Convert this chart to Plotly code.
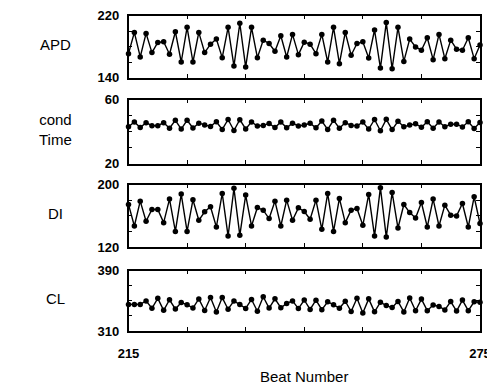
import plotly.graph_objects as go

beats = list(range(215, 276))

apd = [170.8, 198.2, 166.5, 196.9, 172.1, 185.2, 186.1, 170.0, 199.1, 160.0,
       204.8, 160.0, 198.2, 172.1, 183.0, 189.6, 165.6, 204.8, 154.7, 210.0,
       153.4, 204.8, 165.6, 188.2, 183.9, 173.9, 193.9, 166.5, 195.6, 169.5,
       185.6, 183.0, 170.8, 195.6, 160.0, 204.8, 157.8, 198.2, 168.7, 183.9,
       186.1, 165.2, 201.3, 152.1, 210.9, 151.3, 204.8, 160.8, 189.6, 179.5,
       175.2, 191.3, 163.0, 195.6, 164.3, 188.2, 176.5, 175.2, 191.3, 164.3,
       182.0]

cond = [43.0, 46.0, 42.5, 45.5, 43.6, 43.6, 45.5, 42.1, 47.0, 41.5,
        47.0, 42.2, 45.2, 44.0, 43.2, 46.1, 41.3, 47.5, 40.6, 47.4,
        41.6, 46.0, 43.4, 43.8, 45.0, 42.5, 46.0, 42.3, 45.2, 43.4,
        44.0, 45.1, 42.3, 46.5, 41.3, 47.0, 42.1, 45.5, 43.8, 43.5,
        45.9, 41.5, 47.5, 40.5, 47.6, 41.2, 46.4, 43.0, 44.1, 44.9,
        42.6, 46.1, 42.1, 46.0, 43.0, 44.5, 44.6, 42.8, 46.1, 41.9,
        45.7]

di = [174.4, 146.9, 178.7, 152.9, 168.0, 168.0, 151.2, 181.3, 140.0, 187.7,
      140.0, 180.4, 154.2, 165.0, 171.4, 145.6, 188.6, 134.0, 195.1, 134.9,
      186.5, 146.9, 170.5, 167.1, 156.4, 178.7, 146.9, 180.0, 154.2, 170.1,
      165.4, 155.5, 180.0, 142.6, 188.6, 140.0, 182.2, 151.2, 167.1, 169.3,
      147.8, 187.3, 134.0, 195.9, 132.7, 189.9, 144.3, 174.4, 164.1, 157.2,
      177.0, 145.6, 181.3, 146.9, 173.6, 160.7, 159.8, 175.7, 145.6, 184.3,
      150.0]

cl = [345.2, 345.1, 345.2, 349.8, 340.1, 353.2, 337.3, 351.3, 339.1, 347.7,
      344.8, 340.4, 352.4, 337.1, 354.4, 335.2, 354.2, 338.8, 349.8, 344.9,
      339.9, 351.7, 336.1, 355.3, 340.3, 352.6, 340.8, 346.5, 349.8, 339.6,
      351.0, 338.5, 350.8, 338.2, 348.6, 344.8, 340.0, 349.4, 335.8, 353.2,
      333.9, 352.5, 335.3, 348.0, 343.6, 341.2, 349.1, 335.2, 353.7, 336.7,
      352.2, 336.9, 344.3, 342.5, 337.9, 348.9, 336.3, 350.9, 336.9, 348.6,
      348.0]

panel_names = ["APD", "cond<br>Time", "DI", "CL"]
series = [apd, cond, di, cl]
y_ranges = [(140, 220), (20, 60), (120, 200), (310, 390)]
y_steps = [20, 10, 20, 20]
x_ticks = list(range(215, 276, 10))
x_ticktext = ["215", "", "", "", "", "", "275"]

# page body has an 8px margin; lay out in window pixels and shift
OFF = 8
W, H = 495 - OFF, 390 - OFF
px_top = [15.5, 99.5, 184.5, 270.5]
px_bot = [77.5, 163.5, 247.0, 331.0]
x_left, x_right = 128.5, 480.0


def fx(p):
    return (p - OFF) / W


def fy(p):
    return 1 - (p - OFF) / H


fig = go.Figure()
tickfont = dict(family="Liberation Sans", size=13, color="black", weight="bold")

for k in range(4):
    ax = "" if k == 0 else str(k + 1)
    fig.add_trace(go.Scatter(
        x=beats, y=series[k], mode="lines+markers",
        line=dict(color="black", width=1.4),
        marker=dict(color="black", size=5.5),
        cliponaxis=False, showlegend=False,
        xaxis="x" + ax, yaxis="y" + ax))
    lo, hi = y_ranges[k]
    yvals = list(range(lo, hi + 1, y_steps[k]))
    ytext = [str(v) if v in (lo, hi) else "" for v in yvals]
    fig.layout["yaxis" + ax] = dict(
        domain=[fy(px_bot[k]), fy(px_top[k])], range=[lo, hi],
        anchor="x" + ax, showline=True, mirror="allticks", linecolor="black",
        linewidth=1.5, ticks="inside", ticklen=4, tickwidth=1.2, tickcolor="black",
        tickvals=yvals, ticktext=ytext, tickfont=tickfont, showgrid=False,
        zeroline=False, ticklabelstandoff=5, automargin=False,
        ticklabeloverflow="allow")
    fig.layout["xaxis" + ax] = dict(
        domain=[fx(x_left), fx(x_right)], range=[215, 275],
        anchor="y" + ax, showline=True, mirror="allticks", linecolor="black",
        linewidth=1.5, ticks="inside", ticklen=4, tickwidth=1.2, tickcolor="black",
        tickvals=x_ticks, ticktext=x_ticktext if k == 3 else [""] * len(x_ticks),
        showticklabels=(k == 3), tickfont=tickfont, showgrid=False,
        zeroline=False, ticklabelstandoff=10, automargin=False,
        ticklabeloverflow="allow")
    ymid = (px_top[k] + px_bot[k]) / 2
    fig.add_annotation(text=panel_names[k], x=fx(55), y=fy(ymid - 2),
                       xref="paper", yref="paper", showarrow=False,
                       xanchor="center", yanchor="middle",
                       font=dict(family="Liberation Sans", size=15, color="black"))

fig.add_annotation(text="Beat Number", x=fx((x_left + x_right) / 2), y=fy(376),
                   xref="paper", yref="paper", showarrow=False,
                   xanchor="center", yanchor="middle",
                   font=dict(family="Liberation Sans", size=15, color="black"))

fig.update_layout(width=W, height=H, margin=dict(l=0, r=0, t=0, b=0, autoexpand=False),
                  paper_bgcolor="white", plot_bgcolor="white")
fig.write_html("out.html")
